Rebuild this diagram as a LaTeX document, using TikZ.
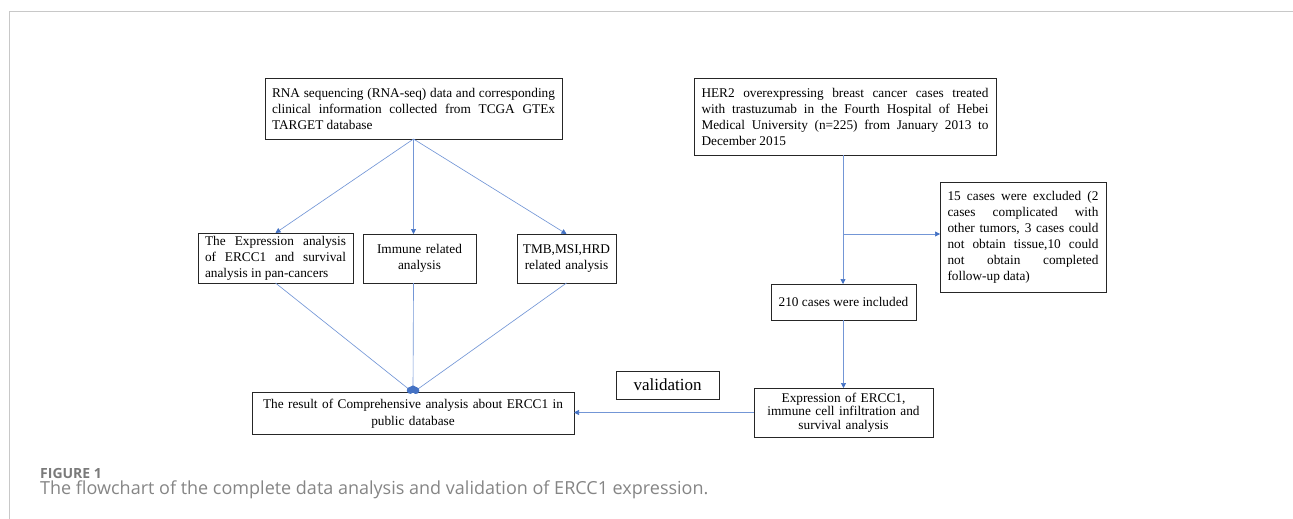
\documentclass[tikz,border=0pt]{standalone}
\usepackage{fontspec}
\setmainfont{Liberation Serif}
\newfontfamily\capfont{Open Sans}
\usetikzlibrary{arrows.meta}
\definecolor{conn}{HTML}{4472C4}
\definecolor{connline}{HTML}{7396D6}
\definecolor{framegray}{HTML}{C8C8C8}
\definecolor{capgray}{HTML}{858585}
\definecolor{figgray}{HTML}{7A7A7A}
\hyphenpenalty=10000
\exhyphenpenalty=10000
\tolerance=10000
\hbadness=10000
\begin{document}
\begin{tikzpicture}[x=1pt,y=-1pt,
  box/.style={draw=black!85, line width=0.9pt, inner sep=0pt, outer sep=0pt,
    font=\fontsize{13.3}{16}\selectfont},
  conn/.style={draw=connline, line width=0.65pt, -{Triangle[width=5pt,length=5pt,color=conn]}},
  dotconn/.style={draw=connline, line width=0.65pt, -{Circle[length=7pt,color=conn]}}
]
\useasboundingbox (0,0) rectangle (1293,519);
\draw[framegray, line width=1pt] (9,519) -- (9,12) -- (1293,12);

% left column
\node[box, minimum width=297pt, minimum height=61pt, text width=283pt, align=justify] (A) at (413.5,108.5)
 {RNA sequencing (RNA-seq) data and corresponding\linebreak clinical information collected from TCGA GTEx\linebreak TARGET database};
\node[box, minimum width=155pt, minimum height=50pt, text width=141pt, align=justify] (B) at (275.5,258)
 {The Expression analysis\linebreak of ERCC1 and survival\linebreak analysis in pan-cancers};
\node[box, minimum width=113pt, minimum height=49pt, text width=100pt, align=center] (C) at (419.5,258.5)
 {Immune related\\analysis};
\node[box, minimum width=99pt, minimum height=49pt, text width=92pt, align=center] (D) at (566.5,258.5)
 {TMB,MSI,HRD\\related analysis};
\node[box, minimum width=322pt, minimum height=42pt, text width=310pt, align=center,
  font=\fontsize{13.3}{17}\selectfont] (E) at (413,413.5)
 {The result of Comprehensive analysis about ERCC1 in\\public database};
\node[box, minimum width=103pt, minimum height=28pt, font=\fontsize{17}{20}\selectfont] (V) at (667.5,385)
 {validation};

% right column
\node[box, minimum width=302pt, minimum height=77pt, text width=287pt, align=justify] (F) at (845,116.5)
 {HER2 overexpressing breast cancer cases treated\linebreak with trastuzumab in the Fourth Hospital of Hebei\linebreak Medical University (n=225) from January 2013 to\linebreak December 2015};
\node[box, minimum width=166pt, minimum height=110pt, text width=151pt, align=justify] (G) at (1023,237)
 {15 cases were excluded (2\linebreak cases complicated with\linebreak other tumors, 3 cases could\linebreak not obtain tissue,10 could\linebreak not obtain completed\linebreak follow-up data)};
\node[box, minimum width=145pt, minimum height=36pt] (H) at (843.5,302)
 {210 cases were included};
\node[box, minimum width=179pt, minimum height=49pt, text width=170pt, align=center,
  font=\fontsize{13.3}{13.6}\selectfont] (I) at (843.5,412.5)
 {Expression of ERCC1,\\immune cell infiltration and\\survival analysis};

% connectors left
\draw[conn] (A.south) -- (B.north);
\draw[conn] (A.south) -- (A.south |- C.north);
\draw[conn] (A.south) -- (D.north);
\draw[dotconn] (B.south) -- (E.north);
\draw[dotconn] (A.south |- C.south) -- (E.north);
\draw[dotconn] (D.south) -- (E.north);

% connectors right
\coordinate (br) at (843,234);
\draw[conn] (F.south -| br) -- (br |- H.north);
\draw[conn] (br) -- (br -| G.west);
\draw[conn] (H.south) -- (I.north);
\draw[conn] (I.west) -- (I.west -| E.east);

% caption
\node[anchor=base west, inner sep=0pt, text=figgray, font=\capfont\bfseries\fontsize{14}{16}\selectfont] (cap1) at (40,478) {FIGURE 1};
\node[anchor=base west, inner sep=0pt, text=capgray, font=\capfont\fontsize{18}{21}\selectfont] (cap2) at (40,494)
 {The flowchart of the complete data analysis and validation of ERCC1 expression.};
\end{tikzpicture}
\end{document}
